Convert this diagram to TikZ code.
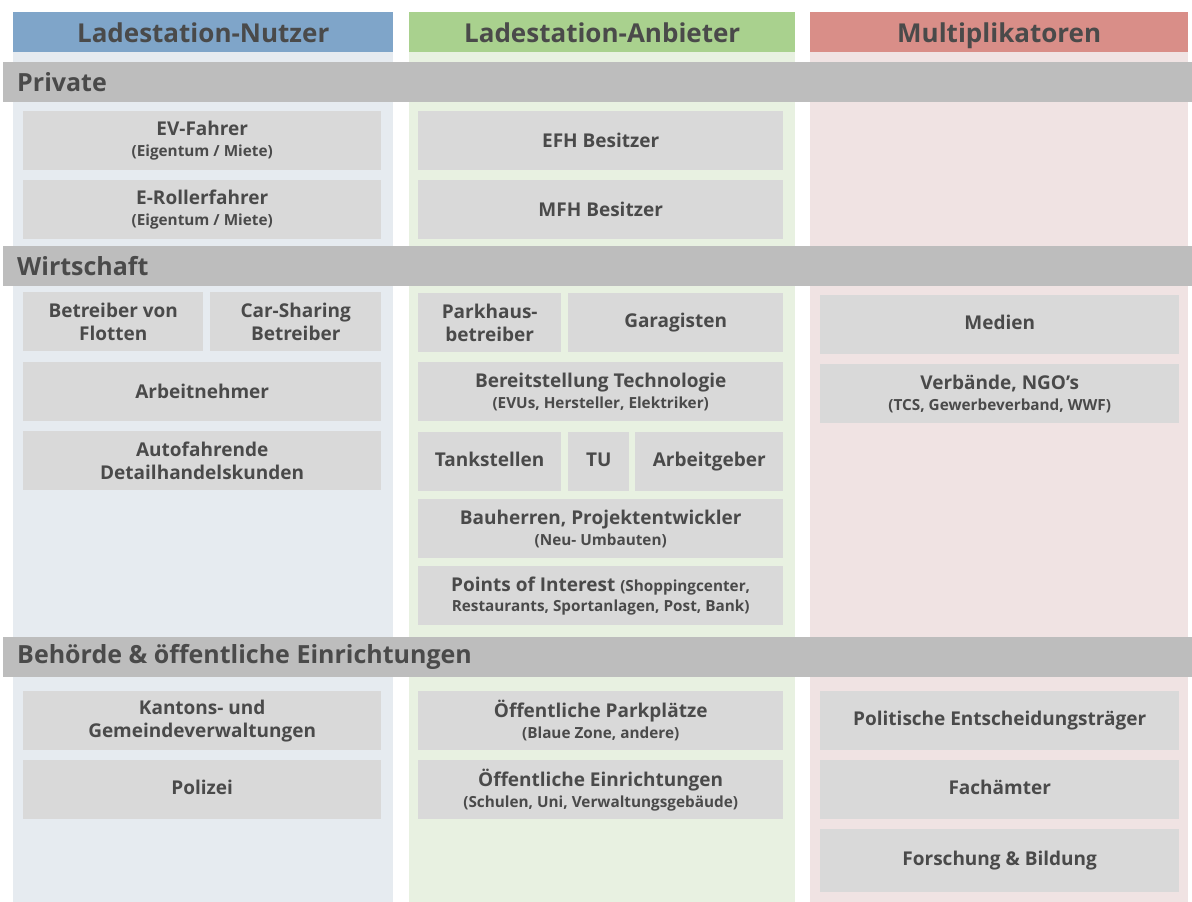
\documentclass[tikz,border=0pt]{standalone}
\usepackage{fontspec}
\setmainfont{Open Sans}
\usetikzlibrary{positioning}

\definecolor{nutzerblue}{HTML}{7FA5C9}
\definecolor{anbietergreen}{HTML}{A9D18E}
\definecolor{multired}{HTML}{D98E88}
\definecolor{nutzerbg}{HTML}{E6EBF0}
\definecolor{anbieterbg}{HTML}{E8F1E1}
\definecolor{multibg}{HTML}{F0E3E3}
\definecolor{bandgray}{HTML}{BDBDBD}
\definecolor{boxgray}{HTML}{D9D9D9}
\definecolor{txtgray}{HTML}{4A4A4A}

\newcommand{\subline}[1]{{\fontsize{15.3}{17}\selectfont #1}}

\begin{document}
\begin{tikzpicture}[x=1pt,y=-1pt,
		colhead/.style={anchor=north west, inner sep=0pt, minimum height=40pt, text height=22pt, text depth=2pt, text=txtgray, font=\fontsize{26}{31}\selectfont\bfseries},
		band/.style={anchor=north west, inner sep=0pt, minimum width=1189pt, minimum height=40pt, fill=bandgray, text=txtgray, font=\fontsize{25}{30}\selectfont\bfseries},
		bandtext/.style={anchor=west, inner sep=0pt, text=txtgray, font=\fontsize{25}{30}\selectfont\bfseries},
		cell/.style n args={2}{anchor=north west, inner sep=0pt, fill=boxgray, align=center, text=txtgray, font=\fontsize{19}{23}\selectfont\bfseries, minimum width=#1pt, minimum height=#2pt}]
		\useasboundingbox (0,0) rectangle (1192,902);
		\fill[white] (0,0) rectangle (1192,902);

		% columns
		\fill[nutzerbg] (13,52) rectangle (393,902);
		\fill[anbieterbg] (409,52) rectangle (795,902);
		\fill[multibg] (810,52) rectangle (1188,902);
		\node[colhead, fill=nutzerblue, minimum width=380pt] (nutzer) at (13,12) {Ladestation-Nutzer};
		\node[colhead, fill=anbietergreen, minimum width=386pt] (anbieter) at (409,12) {Ladestation-Anbieter};
		\node[colhead, fill=multired, minimum width=378pt] (multi) at (810,12) {Multiplikatoren};

		% Private
		\node[band] (private) at (3,62) {};
		\node[bandtext] at (17,82) {Private};
		\node[cell={358}{59}] (evfahrer) at (23,111) {EV-Fahrer\\[-2pt]\subline{(Eigentum / Miete)}};
		\node[cell={358}{59}] (roller) at (23,180) {E-Rollerfahrer\\[-2pt]\subline{(Eigentum / Miete)}};
		\node[cell={365}{59}] (efh) at (418,111) {EFH Besitzer};
		\node[cell={365}{59}] (mfh) at (418,180) {MFH Besitzer};

		% Wirtschaft
		\node[band] (wirtschaft) at (3,246) {};
		\node[bandtext] at (17,266) {Wirtschaft};
		\node[cell={180}{59}] (flotten) at (23,292) {Betreiber von\\Flotten};
		\node[cell={171}{59}] (carsharing) at (210,292) {Car-Sharing\\Betreiber};
		\node[cell={358}{59}] (arbeitnehmer) at (23,362) {Arbeitnehmer};
		\node[cell={358}{59}] (autofahrende) at (23,431) {Autofahrende\\Detailhandelskunden};
		\node[cell={143}{59}] (parkhaus) at (418,293) {Parkhaus-\\betreiber};
		\node[cell={215}{59}] (garagisten) at (568,293) {\strut Garagisten};
		\node[cell={365}{59}] (technologie) at (418,362) {Bereitstellung Technologie\\[-2pt]\subline{(EVUs, Hersteller, Elektriker)}};
		\node[cell={143}{59}] (tankstellen) at (418,432) {\strut Tankstellen};
		\node[cell={61}{59}] (tu) at (568,432) {\strut TU};
		\node[cell={148}{59}] (arbeitgeber) at (635,432) {\strut Arbeitgeber};
		\node[cell={365}{59}] (bauherren) at (418,499) {Bauherren, Projektentwickler\\[-2pt]\subline{(Neu- Umbauten)}};
		\node[cell={365}{59}] (poi) at (418,566) {Points of Interest \subline{(Shoppingcenter,}\\[-3pt]\subline{Restaurants, Sportanlagen, Post, Bank)}};
		\node[cell={359}{59}] (medien) at (820,295) {\strut Medien};
		\node[cell={359}{59}] (verbaende) at (820,364) {Verbände, NGO’s\\[-2pt]\subline{(TCS, Gewerbeverband, WWF)}};

		% Behoerde
		\node[band] (behoerde) at (3,637) {};
		\node[bandtext] at (17,657) {Behörde \& öffentliche Einrichtungen};
		\node[cell={358}{59}] (kantone) at (23,691) {Kantons- und\\Gemeindeverwaltungen};
		\node[cell={358}{59}] (polizei) at (23,760) {\strut Polizei};
		\node[cell={365}{59}] (parkplaetze) at (418,691) {Öffentliche Parkplätze\\[-2pt]\subline{(Blaue Zone, andere)}};
		\node[cell={365}{59}] (einrichtungen) at (418,760) {Öffentliche Einrichtungen\\[-2pt]\subline{(Schulen, Uni, Verwaltungsgebäude)}};
		\node[cell={359}{59}] (politik) at (820,691) {\strut Politische Entscheidungsträger};
		\node[cell={359}{59}] (fachaemter) at (820,760) {\strut Fachämter};
		\node[cell={359}{63}] (forschung) at (820,829) {\strut Forschung \& Bildung};
	\end{tikzpicture}
\end{document}
